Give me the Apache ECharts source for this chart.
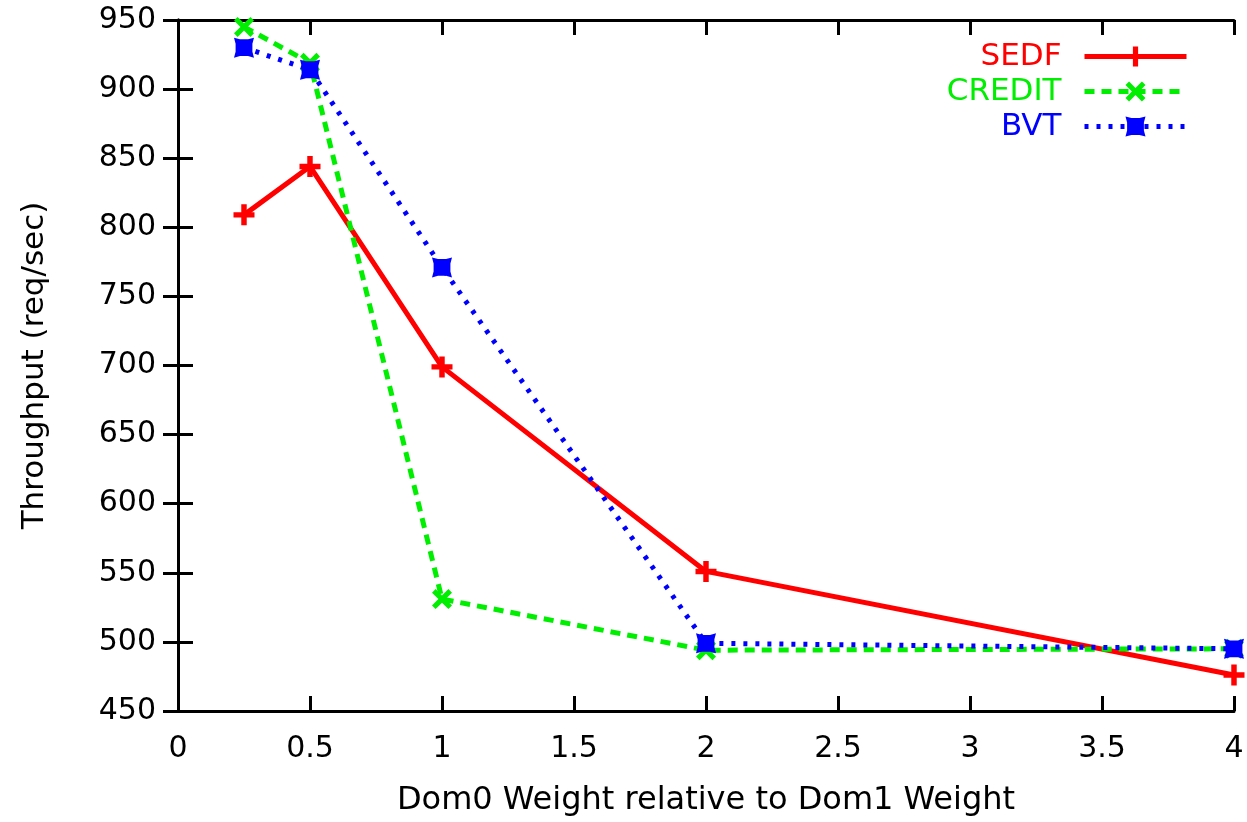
<!DOCTYPE html>
<html>
<head>
<meta charset="utf-8">
<script src="https://cdn.jsdelivr.net/npm/echarts@6/dist/echarts.min.js"></script>
<style>
html,body{margin:0;padding:0;background:#fff;}
#chart{width:1247px;height:822px;}
</style>
</head>
<body>
<div id="chart"></div>
<script>
const xValues = [0.25, 0.5, 1, 2, 4];
const sedf = [809, 844, 699, 551, 476];
const credit = [945, 919, 531, 494, 495];
const bvt = [930, 914, 771, 499, 495];
const seriesNames = ['SEDF', 'CREDIT', 'BVT'];
const seriesColors = ['#ff0000', '#00ee00', '#0000ff'];

const FONT = 'DejaVu Sans';
const plusPath = 'path://M3.7,0h2.6v3.7h3.7v2.6h-3.7v3.7h-2.6v-3.7h-3.7v-2.6h3.7z';
const xPath = 'path://M1.8,0L5,3.2L8.2,0L10,1.8L6.8,5L10,8.2L8.2,10L5,6.8L1.8,10L0,8.2L3.2,5L0,1.8Z';
const blobPath = 'path://M0,0L3,0.8L7,0.8L10,0L9.2,3L9.2,7L10,10L7,9.2L3,9.2L0,10L0.8,7L0.8,3Z';

function pts(ys){ return xValues.map((x,i)=>[x, ys[i]]); }

const chart = echarts.init(document.getElementById('chart'));
const axisLine = {show:true, lineStyle:{color:'#000', width:3}};
const tickIn = {show:true, inside:true, length:15, lineStyle:{color:'#000', width:3}};
chart.setOption({
  animation:false,
  backgroundColor:'#fff',
  grid:{left:178, right:13, top:20, bottom:110, containLabel:false},
  legend:{
    orient:'vertical', right:53, top:36, align:'right',
    itemWidth:102, itemHeight:25, itemGap:4,
    lineStyle:{width:5},
    textStyle:{fontFamily:FONT, fontSize:31, padding:[0,18,0,0]},
    data: seriesNames.map((n,i)=>({name:n, textStyle:{color:seriesColors[i], fontFamily:FONT, fontSize:31}}))
  },
  xAxis:[{
    type:'value', min:0, max:4, interval:0.5,
    name:'Dom0 Weight relative to Dom1 Weight', nameLocation:'middle', nameGap:74,
    nameTextStyle:{fontFamily:FONT, fontSize:32, color:'#000'},
    axisLine:axisLine, axisTick:tickIn,
    axisLabel:{fontFamily:FONT, fontSize:30, color:'#000', margin:23},
    splitLine:{show:false}
  },{
    type:'value', min:0, max:4, interval:0.5, position:'top',
    axisLine:axisLine, axisTick:tickIn, axisLabel:{show:false}, splitLine:{show:false}
  }],
  yAxis:[{
    type:'value', min:450, max:950, interval:50,
    name:'Throughput (req/sec)', nameLocation:'middle', nameGap:128,
    nameTextStyle:{fontFamily:FONT, fontSize:31, color:'#000'},
    axisLine:axisLine, axisTick:tickIn,
    axisLabel:{fontFamily:FONT, fontSize:30, color:'#000', margin:22},
    splitLine:{show:false}
  },{
    type:'value', min:450, max:950, interval:50, position:'right',
    axisLine:axisLine, axisTick:tickIn, axisLabel:{show:false}, splitLine:{show:false}
  }],
  series:[
    {name:'SEDF', type:'line', data:pts(sedf), clip:false, z:3,
     symbol:plusPath, symbolSize:21,
     lineStyle:{color:seriesColors[0], width:5, type:'solid'},
     itemStyle:{color:seriesColors[0]}},
    {name:'CREDIT', type:'line', data:pts(credit), clip:false, z:4,
     symbol:xPath, symbolSize:20,
     lineStyle:{color:seriesColors[1], width:5, type:[10,7]},
     itemStyle:{color:seriesColors[1]}},
    {name:'BVT', type:'line', data:pts(bvt), clip:false, z:5,
     symbol:blobPath, symbolSize:20,
     lineStyle:{color:seriesColors[2], width:5, type:[4,8]},
     itemStyle:{color:seriesColors[2]}}
  ]
});
</script>
</body>
</html>
